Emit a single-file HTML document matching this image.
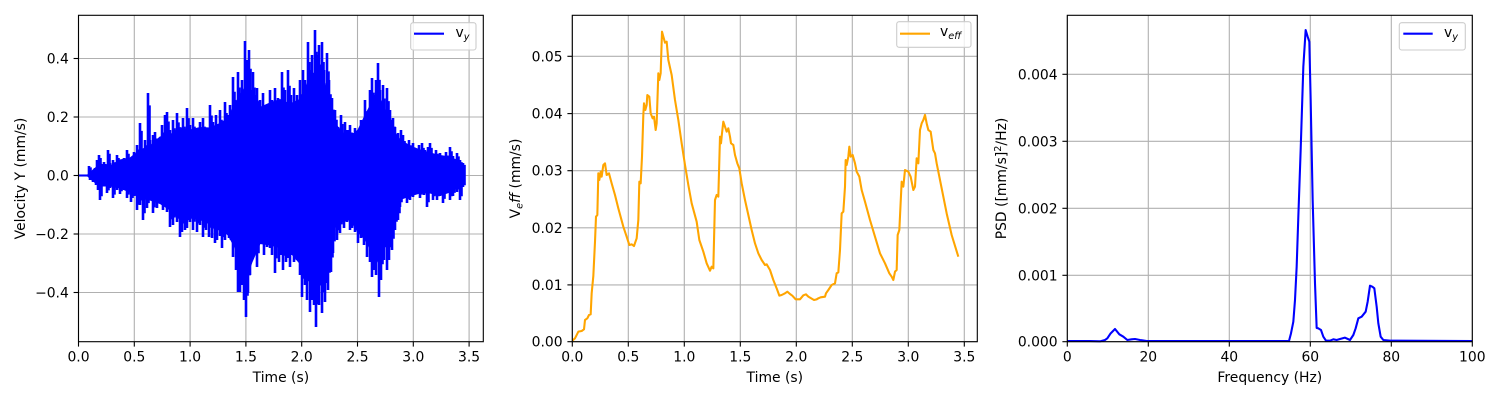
<!DOCTYPE html>
<html><head><meta charset="utf-8"><style>
html,body{margin:0;padding:0;background:#fff;}
svg{display:block;}
text{font-family:"DejaVu Sans","Liberation Sans",sans-serif;font-size:13.9px;fill:#000;}
</style></head><body>
<svg width="1500" height="400" viewBox="0 0 1500 400" xmlns="http://www.w3.org/2000/svg">
<rect width="1500" height="400" fill="#fff"/>

<!-- ============ PLOT 1 ============ -->
<g stroke="#b0b0b0" stroke-width="1.1">
<line x1="78.5" y1="15.3" x2="78.5" y2="341.7"/>
<line x1="134.3" y1="15.3" x2="134.3" y2="341.7"/>
<line x1="190.1" y1="15.3" x2="190.1" y2="341.7"/>
<line x1="245.9" y1="15.3" x2="245.9" y2="341.7"/>
<line x1="301.7" y1="15.3" x2="301.7" y2="341.7"/>
<line x1="357.5" y1="15.3" x2="357.5" y2="341.7"/>
<line x1="413.3" y1="15.3" x2="413.3" y2="341.7"/>
<line x1="469.1" y1="15.3" x2="469.1" y2="341.7"/>
<line x1="78.5" y1="58.5" x2="483.3" y2="58.5"/>
<line x1="78.5" y1="117" x2="483.3" y2="117"/>
<line x1="78.5" y1="175.5" x2="483.3" y2="175.5"/>
<line x1="78.5" y1="234" x2="483.3" y2="234"/>
<line x1="78.5" y1="292.5" x2="483.3" y2="292.5"/>
</g>
<polyline points="78.5,175.5 90,175.5" fill="none" stroke="#0000ff" stroke-width="2.08"/>
<polygon fill="#0000ff" stroke="#0000ff" stroke-width="1" stroke-linejoin="miter" points="
87,175.5 93,170 100,164 110,166 120,160 130,158 140,150 150,146 160,137 170,135 180,127.5 190,130 200,127.5 210,128 220,123.5 228,118 235,103.5 240,95 245,87.5 252,98 260,107.5 270,103 280,99.5 290,104 300,99.5 308,82 315,71.5 320,76 325,83.5 330,105 335,123.5 342,132 350,137 358,130 365,115.5 372,102 378,95.5 384,106 390,123.5 395,133 400,139.5 410,146 420,150 430,153 440,155.5 450,157 463,163.5
463,185 450,192 440,195.5 430,193 420,193 410,196 400,199.5 395,210 390,223.5 384,245 379,263.5 372,252 365,239.5 358,232 350,219.5 342,222 335,227.5 330,245 325,267.5 320,278 316,287.5 310,280 300,263.5 290,252 280,247.5 270,245 260,243.5 252,262 246,279.5 240,262 235,247.5 228,235 220,227.5 210,224 200,219.5 190,218 180,219.5 170,210 160,203.5 150,200 140,198 130,192 120,188 110,186 100,186 93,181"/>
<defs>
<path id="spk" fill="none" stroke="#0000ff" stroke-width="2.6" d="
M89 175.5V166M91 175.5V172M95 175.5V168M97 175.5V160M99 175.5V155M101 175.5V165M104 175.5V162M108 175.5V150M110 175.5V163M113 175.5V160M117 175.5V155M120 175.5V165M124 175.5V158M127 175.5V150M130 175.5V160M134 175.5V152M137 175.5V145M140 175.5V123M142 175.5V150M145 175.5V140M148 175.5V93M150 175.5V140M153 175.5V135M155 175.5V132M158 175.5V140M162 175.5V125M165 175.5V115M167 175.5V112M170 175.5V130M173 175.5V120M177 175.5V113M180 175.5V128M183 175.5V118M187 175.5V108M190 175.5V125M193 175.5V118M196 175.5V130M200 175.5V122M203 175.5V118M206 175.5V128M210 175.5V105M213 175.5V122M216 175.5V115M220 175.5V110M222 175.5V125M225 175.5V102M228 175.5V115M230 175.5V105M233 175.5V77M235 175.5V100M238 175.5V72M240 175.5V95M242 175.5V80M245 175.5V41M247 175.5V60M249 175.5V50M251 175.5V90M253 175.5V72M255 175.5V95M257 175.5V88M260 175.5V100M263 175.5V93M266 175.5V105M270 175.5V90M272 175.5V100M275 175.5V88M278 175.5V98M282 175.5V72M285 175.5V90M288 175.5V70M291 175.5V95M294 175.5V88M297 175.5V95M300 175.5V80M303 175.5V70M305 175.5V80M308 175.5V42M310 175.5V70M312 175.5V55M315 175.5V30M317 175.5V55M319 175.5V45M322 175.5V42M324 175.5V70M327 175.5V53M329 175.5V80M332 175.5V98M335 175.5V110M338 175.5V127M341 175.5V115M345 175.5V122M348 175.5V130M350 175.5V125M353 175.5V133M355 175.5V128M358 175.5V133M361 175.5V120M365 175.5V100M368 175.5V115M370 175.5V90M372 175.5V78M374 175.5V95M376 175.5V80M378 175.5V63M380 175.5V90M383 175.5V85M387 175.5V88M390 175.5V110M393 175.5V118M395 175.5V127M398 175.5V133M401 175.5V130M403 175.5V135M406 175.5V145M409 175.5V140M413 175.5V143M416 175.5V150M419 175.5V145M422 175.5V143M425 175.5V150M428 175.5V147M430 175.5V143M433 175.5V155M436 175.5V150M440 175.5V153M443 175.5V157M446 175.5V152M450 175.5V147M453 175.5V156M457 175.5V153M460 175.5V160M463 175.5V163
M463 175.5V187M460 175.5V200M457 175.5V192M453 175.5V196M450 175.5V200M447 175.5V192M443 175.5V203M440 175.5V196M437 175.5V200M433 175.5V200M430 175.5V192M427 175.5V207M424 175.5V195M420 175.5V198M417 175.5V193M413 175.5V197M410 175.5V200M407 175.5V203M404 175.5V195M400 175.5V207M398 175.5V220M395 175.5V230M392 175.5V250M389 175.5V260M387 175.5V270M384 175.5V260M381 175.5V280M379 175.5V297M376 175.5V275M374 175.5V270M372 175.5V277M370 175.5V262M367 175.5V257M364 175.5V245M361 175.5V238M358 175.5V243M355 175.5V232M352 175.5V228M350 175.5V230M347 175.5V222M344 175.5V228M340 175.5V233M337 175.5V240M333 175.5V253M331 175.5V272M328 175.5V290M325 175.5V302M322 175.5V313M319 175.5V305M316 175.5V327M314 175.5V305M312 175.5V300M310 175.5V312M307 175.5V300M305 175.5V285M302 175.5V297M300 175.5V275M297 175.5V260M294 175.5V262M292 175.5V255M290 175.5V267M288 175.5V258M286 175.5V262M283 175.5V270M281 175.5V255M279 175.5V262M275 175.5V273M272 175.5V255M270 175.5V248M267 175.5V247M264 175.5V255M261 175.5V242M257 175.5V267M255 175.5V252M252 175.5V258M250 175.5V275M248 175.5V293M246 175.5V317M244 175.5V300M242 175.5V285M240 175.5V292M238 175.5V292M236 175.5V270M233 175.5V257M231 175.5V240M229 175.5V238M227 175.5V233M225 175.5V240M222 175.5V248M220 175.5V236M217 175.5V240M215 175.5V243M212 175.5V238M209 175.5V237M206 175.5V230M203 175.5V237M200 175.5V225M197 175.5V232M193 175.5V230M190 175.5V222M187 175.5V228M185 175.5V230M182 175.5V232M180 175.5V237M177 175.5V222M173 175.5V225M170 175.5V227M167 175.5V212M163 175.5V210M160 175.5V202M157 175.5V208M153 175.5V213M150 175.5V200M147 175.5V208M143 175.5V220M140 175.5V205M137 175.5V210M134 175.5V196M131 175.5V202M127 175.5V198M124 175.5V190M120 175.5V194M117 175.5V190M113 175.5V198M110 175.5V188M107 175.5V193M104 175.5V186M100 175.5V200M98 175.5V190M96 175.5V185M93 175.5V182M90 175.5V180"/>
</defs>
<use href="#spk"/>
<use href="#spk" transform="translate(1.5,26.3) scale(1,0.85)"/>
<rect x="78.5" y="15.3" width="404.8" height="326.4" fill="none" stroke="#000" stroke-width="1.1"/>
<g stroke="#000" stroke-width="1.1">
<line x1="78.5" y1="341.7" x2="78.5" y2="346.6"/>
<line x1="134.3" y1="341.7" x2="134.3" y2="346.6"/>
<line x1="190.1" y1="341.7" x2="190.1" y2="346.6"/>
<line x1="245.9" y1="341.7" x2="245.9" y2="346.6"/>
<line x1="301.7" y1="341.7" x2="301.7" y2="346.6"/>
<line x1="357.5" y1="341.7" x2="357.5" y2="346.6"/>
<line x1="413.3" y1="341.7" x2="413.3" y2="346.6"/>
<line x1="469.1" y1="341.7" x2="469.1" y2="346.6"/>
<line x1="73.6" y1="58.5" x2="78.5" y2="58.5"/>
<line x1="73.6" y1="117" x2="78.5" y2="117"/>
<line x1="73.6" y1="175.5" x2="78.5" y2="175.5"/>
<line x1="73.6" y1="234" x2="78.5" y2="234"/>
<line x1="73.6" y1="292.5" x2="78.5" y2="292.5"/>
</g>
<g text-anchor="middle">
<text x="78.5" y="361.5">0.0</text>
<text x="134.3" y="361.5">0.5</text>
<text x="190.1" y="361.5">1.0</text>
<text x="245.9" y="361.5">1.5</text>
<text x="301.7" y="361.5">2.0</text>
<text x="357.5" y="361.5">2.5</text>
<text x="413.3" y="361.5">3.0</text>
<text x="469.1" y="361.5">3.5</text>
<text x="280.9" y="382">Time (s)</text>
</g>
<g text-anchor="end">
<text x="68.8" y="63.5">0.4</text>
<text x="68.8" y="122">0.2</text>
<text x="68.8" y="180.5">0.0</text>
<text x="68.8" y="239">−0.2</text>
<text x="68.8" y="297.5">−0.4</text>
</g>
<text transform="translate(25,178.5) rotate(-90)" text-anchor="middle">Velocity Y (mm/s)</text>
<rect x="410.7" y="22.7" width="65.3" height="27.3" rx="2.5" fill="#fff" fill-opacity="0.8" stroke="#cccccc" stroke-width="1.1"/>
<line x1="414" y1="33.7" x2="444" y2="33.7" stroke="#0000ff" stroke-width="2.08"/>
<text x="455.5" y="37">v<tspan font-size="9.7" font-style="italic" dy="3">y</tspan></text>

<!-- ============ PLOT 2 ============ -->
<g stroke="#b0b0b0" stroke-width="1.1">
<line x1="572.3" y1="15.3" x2="572.3" y2="341.7"/>
<line x1="628.3" y1="15.3" x2="628.3" y2="341.7"/>
<line x1="684.3" y1="15.3" x2="684.3" y2="341.7"/>
<line x1="740.3" y1="15.3" x2="740.3" y2="341.7"/>
<line x1="796.3" y1="15.3" x2="796.3" y2="341.7"/>
<line x1="852.3" y1="15.3" x2="852.3" y2="341.7"/>
<line x1="908.3" y1="15.3" x2="908.3" y2="341.7"/>
<line x1="964.3" y1="15.3" x2="964.3" y2="341.7"/>
<line x1="572.3" y1="56.3" x2="977.3" y2="56.3"/>
<line x1="572.3" y1="113.6" x2="977.3" y2="113.6"/>
<line x1="572.3" y1="170.7" x2="977.3" y2="170.7"/>
<line x1="572.3" y1="227.8" x2="977.3" y2="227.8"/>
<line x1="572.3" y1="284.9" x2="977.3" y2="284.9"/>
<line x1="572.3" y1="341.7" x2="977.3" y2="341.7"/>
</g>
<polyline transform="translate(500,0) scale(0.33333)" fill="none" stroke="#ffa500" stroke-width="6.25" stroke-linejoin="round" points="
217,1022 225,1015 235,995 245,993 252,988 255,960 262,955 267,945 272,943 275,880 280,828 285,725 288,650 292,645 295,520 298,540 302,515 305,530 310,495 315,490 320,525 327,520 335,550 345,585 355,625 370,680 380,710 388,735 395,733 402,738 410,715 415,660 418,545 422,550 426,470 430,345 432,310 436,330 440,315 442,285 448,290 452,340 458,355 462,350 467,390 470,370 475,220 478,240 482,220 486,95 490,110 495,128 500,125 505,180 515,225 525,300 535,360 545,430 555,495 565,555 575,610 590,665 598,720 610,755 620,790 630,812 635,800 640,805 645,600 650,585 655,590 660,410 663,430 666,400 670,365 675,380 680,395 685,385 690,410 693,430 700,435 705,465 712,490 718,505 725,550 735,600 745,645 755,690 765,730 775,760 785,780 795,795 800,793 810,810 820,840 830,865 838,887 845,885 855,880 862,875 870,882 877,887 887,898 900,898 905,892 910,886 918,883 925,890 935,896 942,900 950,898 955,895 962,892 975,890 978,880 985,870 995,855 1005,850 1010,820 1015,817 1020,750 1025,640 1030,635 1035,560 1037,480 1040,495 1045,470 1048,440 1052,470 1058,465 1065,490 1070,515 1078,530 1085,570 1095,605 1110,660 1125,710 1140,760 1155,790 1168,820 1175,830 1180,840 1185,815 1190,810 1193,705 1198,690 1205,545 1210,560 1215,510 1225,515 1232,530 1240,570 1245,560 1250,475 1255,490 1260,390 1265,370 1270,360 1275,345 1280,370 1285,390 1292,395 1300,450 1305,460 1310,490 1325,565 1340,640 1355,705 1375,770"/>
<rect x="572.3" y="15.3" width="405" height="326.4" fill="none" stroke="#000" stroke-width="1.1"/>
<g stroke="#000" stroke-width="1.1">
<line x1="572.3" y1="341.7" x2="572.3" y2="346.6"/>
<line x1="628.3" y1="341.7" x2="628.3" y2="346.6"/>
<line x1="684.3" y1="341.7" x2="684.3" y2="346.6"/>
<line x1="740.3" y1="341.7" x2="740.3" y2="346.6"/>
<line x1="796.3" y1="341.7" x2="796.3" y2="346.6"/>
<line x1="852.3" y1="341.7" x2="852.3" y2="346.6"/>
<line x1="908.3" y1="341.7" x2="908.3" y2="346.6"/>
<line x1="964.3" y1="341.7" x2="964.3" y2="346.6"/>
<line x1="567.4" y1="56.3" x2="572.3" y2="56.3"/>
<line x1="567.4" y1="113.6" x2="572.3" y2="113.6"/>
<line x1="567.4" y1="170.7" x2="572.3" y2="170.7"/>
<line x1="567.4" y1="227.8" x2="572.3" y2="227.8"/>
<line x1="567.4" y1="284.9" x2="572.3" y2="284.9"/>
<line x1="567.4" y1="341.7" x2="572.3" y2="341.7"/>
</g>
<g text-anchor="middle">
<text x="572.3" y="361.5">0.0</text>
<text x="628.3" y="361.5">0.5</text>
<text x="684.3" y="361.5">1.0</text>
<text x="740.3" y="361.5">1.5</text>
<text x="796.3" y="361.5">2.0</text>
<text x="852.3" y="361.5">2.5</text>
<text x="908.3" y="361.5">3.0</text>
<text x="964.3" y="361.5">3.5</text>
<text x="774.8" y="382">Time (s)</text>
</g>
<g text-anchor="end">
<text x="562.6" y="61.3">0.05</text>
<text x="562.6" y="118.6">0.04</text>
<text x="562.6" y="175.7">0.03</text>
<text x="562.6" y="232.8">0.02</text>
<text x="562.6" y="289.9">0.01</text>
<text x="562.6" y="346.7">0.00</text>
</g>
<text transform="translate(520,178.5) rotate(-90)" text-anchor="middle">V<tspan font-size="9.7" font-style="italic" dy="2.5">e</tspan><tspan font-style="italic" dy="-2.5">ff</tspan> (mm/s)</text>
<rect x="896.7" y="21.7" width="74.3" height="25.6" rx="2.5" fill="#fff" fill-opacity="0.8" stroke="#cccccc" stroke-width="1.1"/>
<line x1="900" y1="33.7" x2="930" y2="33.7" stroke="#ffa500" stroke-width="2.08"/>
<text x="940" y="36.2">v<tspan font-size="9.7" font-style="italic" dy="3">eff</tspan></text>

<!-- ============ PLOT 3 ============ -->
<g stroke="#b0b0b0" stroke-width="1.1">
<line x1="1067.3" y1="15.3" x2="1067.3" y2="341.7"/>
<line x1="1148.3" y1="15.3" x2="1148.3" y2="341.7"/>
<line x1="1229.3" y1="15.3" x2="1229.3" y2="341.7"/>
<line x1="1310.3" y1="15.3" x2="1310.3" y2="341.7"/>
<line x1="1391.3" y1="15.3" x2="1391.3" y2="341.7"/>
<line x1="1472.3" y1="15.3" x2="1472.3" y2="341.7"/>
<line x1="1067.3" y1="74.3" x2="1472.3" y2="74.3"/>
<line x1="1067.3" y1="141.3" x2="1472.3" y2="141.3"/>
<line x1="1067.3" y1="208.3" x2="1472.3" y2="208.3"/>
<line x1="1067.3" y1="275.3" x2="1472.3" y2="275.3"/>
<line x1="1067.3" y1="341.7" x2="1472.3" y2="341.7"/>
</g>
<polyline transform="translate(990,0) scale(0.33333)" fill="none" stroke="#0000ff" stroke-width="6.25" stroke-linejoin="round" points="
232,1023 300,1023 330,1024 345,1020 352,1015 362,1000 375,987 388,1003 400,1010 412,1020 425,1018 435,1017 450,1020 470,1023 880,1023 897,1023 903,1000 910,965 915,900 920,800 925,650 932,450 940,200 947,90 953,110 958,125 962,300 968,600 975,850 980,984 985,985 993,990 1000,1010 1008,1022 1020,1022 1030,1018 1040,1020 1050,1017 1065,1013 1080,1020 1090,1005 1097,985 1105,955 1115,950 1127,935 1133,905 1140,857 1147,860 1153,865 1160,920 1165,970 1172,1010 1180,1020 1200,1022 1447,1023"/>
<rect x="1067.3" y="15.3" width="405" height="326.4" fill="none" stroke="#000" stroke-width="1.1"/>
<g stroke="#000" stroke-width="1.1">
<line x1="1067.3" y1="341.7" x2="1067.3" y2="346.6"/>
<line x1="1148.3" y1="341.7" x2="1148.3" y2="346.6"/>
<line x1="1229.3" y1="341.7" x2="1229.3" y2="346.6"/>
<line x1="1310.3" y1="341.7" x2="1310.3" y2="346.6"/>
<line x1="1391.3" y1="341.7" x2="1391.3" y2="346.6"/>
<line x1="1472.3" y1="341.7" x2="1472.3" y2="346.6"/>
<line x1="1062.4" y1="74.3" x2="1067.3" y2="74.3"/>
<line x1="1062.4" y1="141.3" x2="1067.3" y2="141.3"/>
<line x1="1062.4" y1="208.3" x2="1067.3" y2="208.3"/>
<line x1="1062.4" y1="275.3" x2="1067.3" y2="275.3"/>
<line x1="1062.4" y1="341.7" x2="1067.3" y2="341.7"/>
</g>
<g text-anchor="middle">
<text x="1067.3" y="361.5">0</text>
<text x="1148.3" y="361.5">20</text>
<text x="1229.3" y="361.5">40</text>
<text x="1310.3" y="361.5">60</text>
<text x="1391.3" y="361.5">80</text>
<text x="1472.3" y="361.5">100</text>
<text x="1269.8" y="382">Frequency (Hz)</text>
</g>
<g text-anchor="end">
<text x="1057.6" y="79.3">0.004</text>
<text x="1057.6" y="146.3">0.003</text>
<text x="1057.6" y="213.3">0.002</text>
<text x="1057.6" y="280.3">0.001</text>
<text x="1057.6" y="346.7">0.000</text>
</g>
<text transform="translate(1006,178.5) rotate(-90)" text-anchor="middle">PSD ([mm/s]<tspan font-size="9.7" dy="-5">2</tspan><tspan dy="5">/Hz)</tspan></text>
<rect x="1399.3" y="22.7" width="66" height="27.3" rx="2.5" fill="#fff" fill-opacity="0.8" stroke="#cccccc" stroke-width="1.1"/>
<line x1="1403.3" y1="33.7" x2="1432.7" y2="33.7" stroke="#0000ff" stroke-width="2.08"/>
<text x="1444" y="37">v<tspan font-size="9.7" font-style="italic" dy="3">y</tspan></text>
</svg>
</body></html>
